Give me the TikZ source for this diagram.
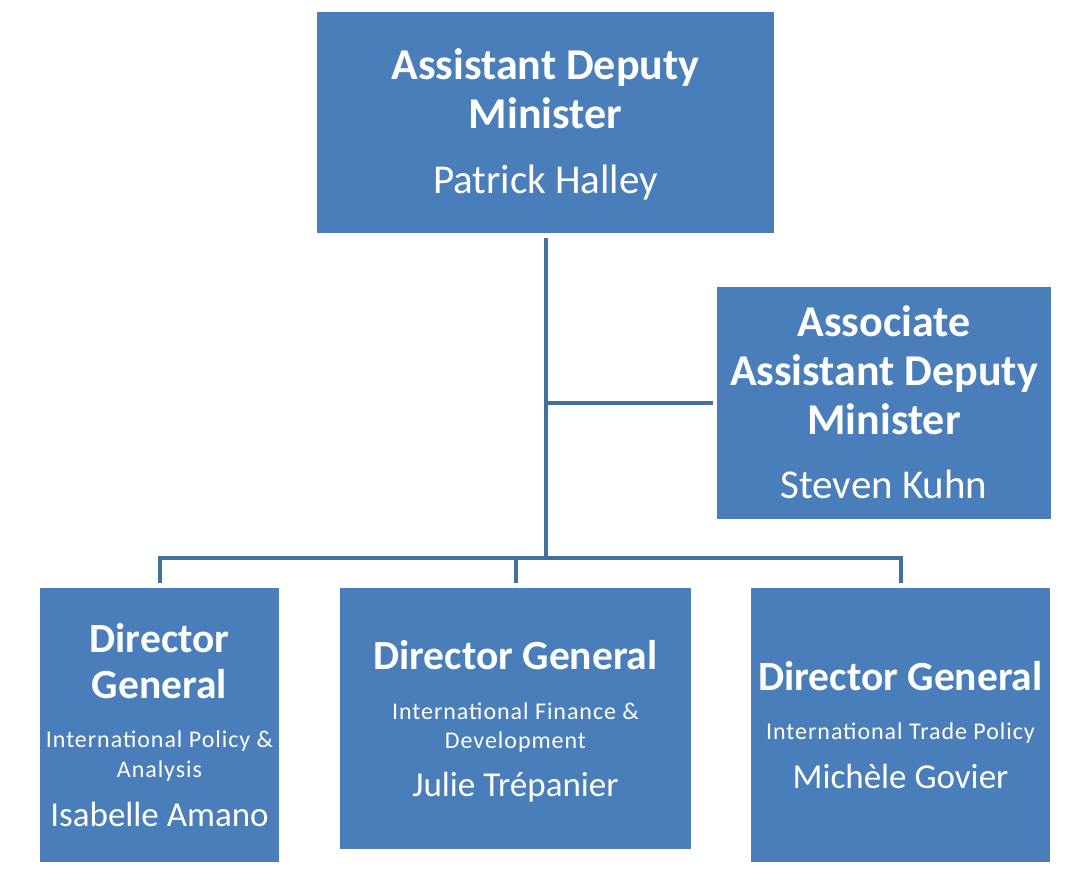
\documentclass[tikz,border=0pt]{standalone}
\usepackage{fontspec}
\setmainfont{Carlito}
\newfontfamily\subfont{Carlito}[LetterSpace=4]
\newcommand{\fullspaces}{\spaceskip0pt\xspaceskip0pt\leftskip0pt plus 1fil\rightskip0pt plus 1fil\parfillskip0pt\relax}
\newcommand{\ascent}{\rule{0pt}{0.89em}}
\newcommand{\descent}{\rule[-0.25em]{0pt}{0pt}}
\definecolor{boxblue}{HTML}{4A7EBB}
\definecolor{lineblue}{HTML}{41719C}
\begin{document}
\begin{tikzpicture}[x=1pt,y=-1pt,
    box/.style={rectangle,fill=boxblue,text=white,inner sep=0pt,align=center,
      execute at begin node={\fullspaces}},
    conn/.style={draw=lineblue,line width=4pt,line join=miter}]
  \useasboundingbox (0,0) rectangle (1086,882);
  % boxes
  \node[box,minimum width=457,minimum height=221,text width=445] (adm) at (545.5,122.5)
    {\fontsize{44}{49}\selectfont\bfseries\ascent Assistant Deputy\\Minister\par
     \vspace{19pt}\fontsize{41}{46}\selectfont\mdseries Patrick Halley\descent\par};
  \node[box,minimum width=334,minimum height=232,text width=330] (aadm) at (884,403)
    {\fontsize{44}{49}\selectfont\bfseries\ascent Associate\\Assistant Deputy\\Minister\par
     \vspace{18pt}\fontsize{41}{46}\selectfont\mdseries Steven Kuhn\descent\par};
  \node[box,minimum width=239,minimum height=274,text width=239] (dg1) at (159.5,725)
    {\fontsize{41.5}{46}\selectfont\bfseries\ascent Director\\General\par
     \vspace{19pt}\subfont\fontsize{24}{30}\selectfont\mdseries International Policy \&\\Analysis\par
     \vspace{7pt}\normalfont\fontsize{35}{42}\selectfont Isabelle Amano\descent\par};
  \node[box,minimum width=351,minimum height=261,text width=345] (dg2) at (515.5,718.5)
    {\fontsize{41.5}{46}\selectfont\bfseries\ascent Director General\par
     \vspace{21pt}\subfont\fontsize{24}{29}\selectfont\mdseries International Finance \&\\Development\par
     \vspace{6pt}\normalfont\fontsize{35}{42}\selectfont Julie Trépanier\descent\par};
  \node[box,minimum width=299,minimum height=274,text width=299] (dg3) at (900.5,725)
    {\fontsize{41.5}{46}\selectfont\bfseries\ascent Director General\par
     \vspace{20pt}\subfont\fontsize{24}{29}\selectfont\mdseries International Trade Policy\par
     \vspace{7pt}\normalfont\fontsize{35}{42}\selectfont Michèle Govier\descent\par};
  \coordinate (bus) at (545,558);
  % connectors
  \draw[conn] ([yshift=-5pt]adm.south) -- (adm.south |- bus);
  \draw[conn] (adm.south |- aadm.west) -- ([xshift=-4pt]aadm.west);
  \draw[conn] ([yshift=5pt]dg1.north) -- (dg1.north |- bus) -- (dg3.north |- bus) -- ([yshift=5pt]dg3.north);
  \draw[conn] (dg2.north |- bus) -- ([yshift=5pt]dg2.north);
\end{tikzpicture}
\end{document}
